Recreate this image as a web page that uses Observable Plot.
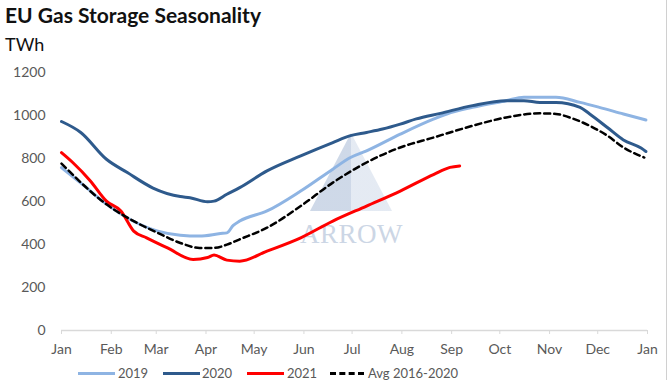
<!DOCTYPE html>
<html>
<head>
<meta charset="utf-8">
<script src="https://cdn.jsdelivr.net/npm/d3@7"></script>
<script src="https://cdn.jsdelivr.net/npm/@observablehq/plot@0.6"></script>
<style>
  html, body { margin: 0; padding: 0; background: #fff; }
  #wrap { position: relative; width: 670px; height: 380px; overflow: hidden; font-family: Lato, "Open Sans", sans-serif; }
  #title { position: absolute; left: 5px; top: 4px; font-size: 21px; font-weight: 700; line-height: 1; color: #111; white-space: nowrap; }
  #sub { position: absolute; left: 5px; top: 35px; font-size: 18px; line-height: 1; color: #111; }
  #chart { position: absolute; left: 0; top: 60px; z-index: 2; }
  #wm { position: absolute; left: 300px; top: 219px; font-family: "Liberation Serif", "DejaVu Serif", serif; font-size: 27px; color: #ccd6e5; z-index: 1; letter-spacing: 0.5px; }
  #tri { position: absolute; left: 310px; top: 133px; width: 82px; height: 78px; background: linear-gradient(90deg, #c6d2e4 0%, #c6d2e4 50%, #e0e7f1 50%, #e0e7f1 100%); clip-path: polygon(50% 0%, 100% 100%, 0% 100%); z-index: 1; opacity: 0.85; }
  #border { position: absolute; left: 666px; top: 0; width: 1px; height: 380px; background: #d0d0d0; }
  .leg { position: absolute; top: 367px; font-size: 13px; line-height: 1; color: #595959; white-space: nowrap; }
  .sw { position: absolute; top: 372px; height: 0; }
</style>
</head>
<body>
<div id="wrap">
  <div id="title">EU Gas Storage Seasonality</div>
  <div id="sub">TWh</div>
  <div id="tri"></div>
  <div id="wm">ARROW</div>
  <div id="chart"></div>
  <div id="border"></div>
  <div class="sw" style="left:78px;width:37px;border-top:3px solid #8EB4E3"></div>
  <div class="leg" style="left:118px">2019</div>
  <div class="sw" style="left:163px;width:37px;border-top:3px solid #2E5A8C"></div>
  <div class="leg" style="left:202px">2020</div>
  <div class="sw" style="left:247px;width:37px;border-top:3px solid #FF0000"></div>
  <div class="leg" style="left:287px">2021</div>
  <div class="sw" style="left:330px;width:34px;border-top:3px dashed #000"></div>
  <div class="leg" style="left:368px">Avg 2016-2020</div>
</div>
<script>
// ---- Data ----
const monthLabels = ["Jan","Feb","Mar","Apr","May","Jun","Jul","Aug","Sep","Oct","Nov","Dec","Jan"];
const yTicks = [0, 200, 400, 600, 800, 1000, 1200];

const dates2019 = ["01-01","01-15","01-29","02-19","03-02","03-16","03-28","04-10","04-14","04-18","04-22","05-09","05-30","06-19","06-30","07-10","07-31","08-21","08-29","09-14","10-05","10-16","11-05","11-20","12-02","12-17","12-31"];
const values2019 = [759,675,589,494,463,444,440,452,455,490,510,557,650,752,806,837,915,986,1009,1040,1071,1087,1087,1063,1040,1009,981];

const dates2020 = ["01-01","01-13","01-29","02-11","02-27","03-16","03-22","04-02","04-06","04-14","04-22","05-09","05-30","06-19","06-30","07-10","07-20","07-31","08-10","08-25","09-14","10-05","10-16","10-26","11-05","11-20","11-26","12-07","12-17","12-28","12-31"];
const values2020 = [974,923,798,736,664,624,619,600,603,635,666,744,814,876,908,923,939,962,986,1012,1048,1071,1071,1063,1063,1040,1009,946,888,850,834];

const dates2021 = ["01-01","01-08","01-19","01-29","02-07","02-15","02-23","03-08","03-24","04-02","04-06","04-14","04-22","05-09","05-30","06-19","07-10","07-31","08-21","08-31","09-06"];
const values2021 = [829,783,697,603,557,463,432,385,331,340,352,328,323,370,432,510,580,650,728,760,767];

const datesAvg = ["01-01","01-29","02-19","03-02","03-16","03-28","04-06","04-14","04-22","05-09","05-30","06-19","07-10","07-31","08-21","08-31","09-14","10-05","10-26","11-05","11-16","11-26","12-07","12-17","12-30"];
const valuesAvg = [778,588,494,455,408,385,385,400,425,479,580,689,783,853,900,923,954,993,1012,1009,986,954,908,853,806];

// ---- Build ----
const toDate = s => { const [m, d] = s.split("-").map(Number); return new Date(Date.UTC(2021, m - 1, d)); };
const series = (dates, values) => dates.map((d, i) => ({date: toDate(d), value: values[i]}));
const s2019 = series(dates2019, values2019);
const s2020 = series(dates2020, values2020);
const s2021 = series(dates2021, values2021);
const sAvg = series(datesAvg, valuesAvg);
const monthTicks = monthLabels.map((_, i) => new Date(Date.UTC(2021, i, 1)));
const fmtMonth = d => monthLabels[d.getUTCFullYear() === 2022 ? 12 : d.getUTCMonth()];

const chart = Plot.plot({
  width: 670,
  height: 304,
  marginLeft: 61,
  marginRight: 23,
  marginTop: 12.5,
  marginBottom: 34,
  style: { background: "transparent", fontFamily: "Lato, 'Open Sans', sans-serif", fontSize: "14px", color: "#595959" },
  x: { type: "utc", domain: [monthTicks[0], monthTicks[12]] },
  y: { domain: [0, 1200] },
  marks: [
    Plot.axisY({ ticks: yTicks, tickSize: 0, tickPadding: 16, tickFormat: d => String(d), fill: "#595959", fontSize: 14, label: null }),
    Plot.ruleY([0], { stroke: "#d9d9d9", strokeWidth: 1.5 }),
    Plot.axisX({ ticks: monthTicks, tickSize: 4, tickPadding: 10, tickFormat: fmtMonth, stroke: "#d9d9d9", fill: "#595959", fontSize: 14, label: null }),
    Plot.line(s2019, { x: "date", y: "value", stroke: "#8EB4E3", strokeWidth: 3, curve: "monotone-x" }),
    Plot.line(s2020, { x: "date", y: "value", stroke: "#2E5A8C", strokeWidth: 3, curve: "monotone-x" }),
    Plot.line(s2021, { x: "date", y: "value", stroke: "#FF0000", strokeWidth: 3, curve: "monotone-x" }),
    Plot.line(sAvg, { x: "date", y: "value", stroke: "#000", strokeWidth: 2.5, strokeDasharray: "6,4", curve: "monotone-x" })
  ]
});
document.getElementById("chart").appendChild(chart);
</script>
</body>
</html>
